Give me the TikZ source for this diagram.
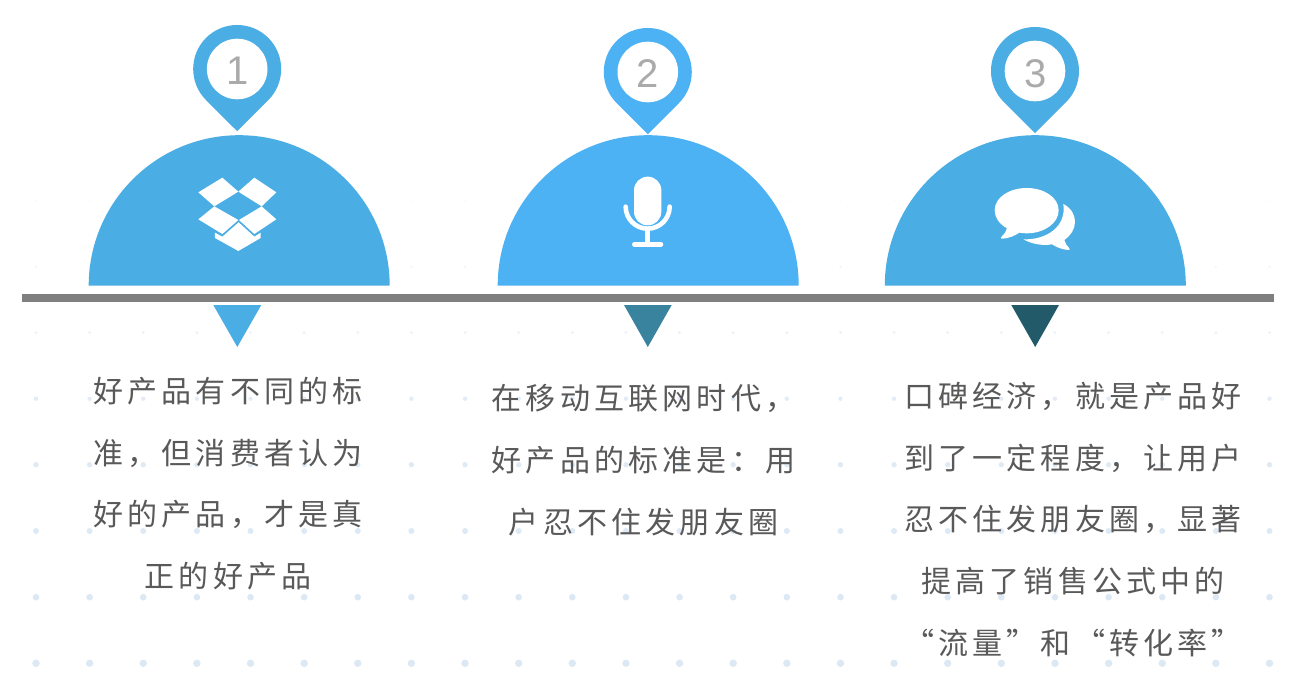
\documentclass[tikz,border=0pt]{standalone}
\usepackage{fontspec}
\newfontfamily\cjk[LetterSpace=14]{Noto Sans CJK SC}
\newfontfamily\numfont{Liberation Sans}
\definecolor{blueA}{HTML}{4AADE3}
\definecolor{blueB}{HTML}{4CB2F3}
\definecolor{tealB}{HTML}{39839E}
\definecolor{tealC}{HTML}{235A6A}
\definecolor{barGrey}{HTML}{7F7F7F}
\definecolor{txtGrey}{HTML}{595959}
\definecolor{numGrey}{HTML}{AAAAAA}
\definecolor{dotBlue}{HTML}{DCE8F4}
\tikzset{
  body/.style={font=\cjk\fontsize{30}{61.7}\selectfont,text=txtGrey,align=center,inner sep=0pt},
  num/.style={font=\numfont\fontsize{40}{40}\selectfont,text=numGrey,inner sep=0pt},
  icon/.style={fill=white,draw=none},
}
\newcommand{\pin}[3]{% cx cy colour
  \fill[#3] (#1,#2+62.2) -- (#1+31.1,#2+31.1) arc[start angle=-45,end angle=225,radius=44pt] -- cycle;
  \fill[white] (#1,#2) circle[radius=30.3pt];
}
\newcommand{\dome}[2]{% cx colour
  \fill[#2] (#1-150.5,285.7) arc[start angle=180,end angle=0,radius=150.5pt] -- cycle;
}
\begin{document}
\begin{tikzpicture}[x=1pt,y=-1pt]
\useasboundingbox (0,0) rectangle (1294,690);
\fill[white] (0,0) rectangle (1294,690);
% dot grid
\foreach \ry/\rr/\op in {663.3/3.7/1,597.2/3.3/1,531/3/.95,464.7/2.7/.9,398.7/2.2/.8,332.6/1.6/.55,266.7/1.3/.35,200.7/1/.2}{
  \foreach \i in {0,...,23}{
    \fill[dotBlue,opacity=\op] ({36+53.63*\i},\ry) circle[radius=\rr pt];
  }
}
% domes
\dome{239.2}{blueA}
\dome{648.2}{blueB}
\dome{1035.3}{blueA}
% pins
\pin{237.2}{69}{blueA}
\pin{647.8}{72}{blueB}
\pin{1035}{71}{blueA}
\node[num] (n1) at (237.2,70.5) {1};
\node[num] (n2) at (647.8,73.5) {2};
\node[num] (n3) at (1035.5,73.5) {3};
% bar
\fill[barGrey] (22,294) rectangle (1274,302);
% triangles
\fill[blueA] (213.3,305) -- (261.3,305) -- (237.3,347) -- cycle;
\fill[tealB] (624,305) -- (671.7,305) -- (647.8,347) -- cycle;
\fill[tealC] (1011.3,305) -- (1059,305) -- (1035.2,347) -- cycle;
% dropbox icon
\begin{scope}[shift={(80,10)},x=0.33333pt,y=-0.33333pt]
  \fill[icon] (355,547) -- (427,503) -- (475,545) -- (403,589) -- cycle;
  \fill[icon] (475,545) -- (523,503) -- (589,547) -- (545,589) -- cycle;
  \fill[icon] (355,628) -- (403,589) -- (475,630) -- (427,672) -- cycle;
  \fill[icon] (545,589) -- (589,628) -- (523,672) -- (477,630) -- cycle;
  \fill[icon] (405,668) -- (405,684) -- (475,723) -- (542,684) -- (542,668) -- (523,680) -- (476,637) -- (427,680) -- cycle;
\end{scope}
% microphone icon
\begin{scope}[shift={(490,10)},x=0.33333pt,y=-0.33333pt]
  \fill[icon,rounded corners=13.6pt] (432,500) rectangle (514,646);
  \draw[white,line width=4.6pt,line cap=round] (407,590) arc[start angle=180,end angle=360,radius=22pt];
  \draw[white,line width=4.6pt] (473,655) -- (473,703);
  \draw[white,line width=4.6pt,line cap=round] (433,703) -- (513,703);
\end{scope}
% chat icon
\begin{scope}[shift={(880,10)},x=0.33333pt,y=-0.33333pt]
  \fill[icon] (344,601) .. controls (344,562) and (388,534) .. (440,534) .. controls (492,534) and (536,562) .. (536,601) .. controls (536,640) and (492,670) .. (440,670) .. controls (432,670) and (425,669) .. (418,668) .. controls (405,677) and (385,686) .. (366,686) .. controls (362,686) and (362,683) .. (364,681) .. controls (372,674) and (378,665) .. (381,655) .. controls (358,642) and (344,623) .. (344,601) -- cycle;
  \fill[icon] (550,582) .. controls (572,593) and (585,613) .. (585,635) .. controls (585,657) and (573,676) .. (553,690) .. controls (555,700) and (562,709) .. (568,715) .. controls (571,719) and (568,721) .. (565,720) .. controls (548,719) and (530,712) .. (516,703) .. controls (487,708) and (455,702) .. (430,688) .. controls (500,690) and (560,650) .. (550,582) -- cycle;
\end{scope}
% texts
\node[body] (t1) at (228,483.5) {好产品有不同的标\\准，但消费者认为\\好的产品，才是真\\正的好产品};
\node[body] (t2) at (643.5,460) {在移动互联网时代，\\好产品的标准是：用\\户忍不住发朋友圈};
\node[body] (t3) at (1073,519.5) {口碑经济，就是产品好\\到了一定程度，让用户\\忍不住发朋友圈，显著\\提高了销售公式中的\\“流量”和“转化率”};
\end{tikzpicture}
\end{document}
